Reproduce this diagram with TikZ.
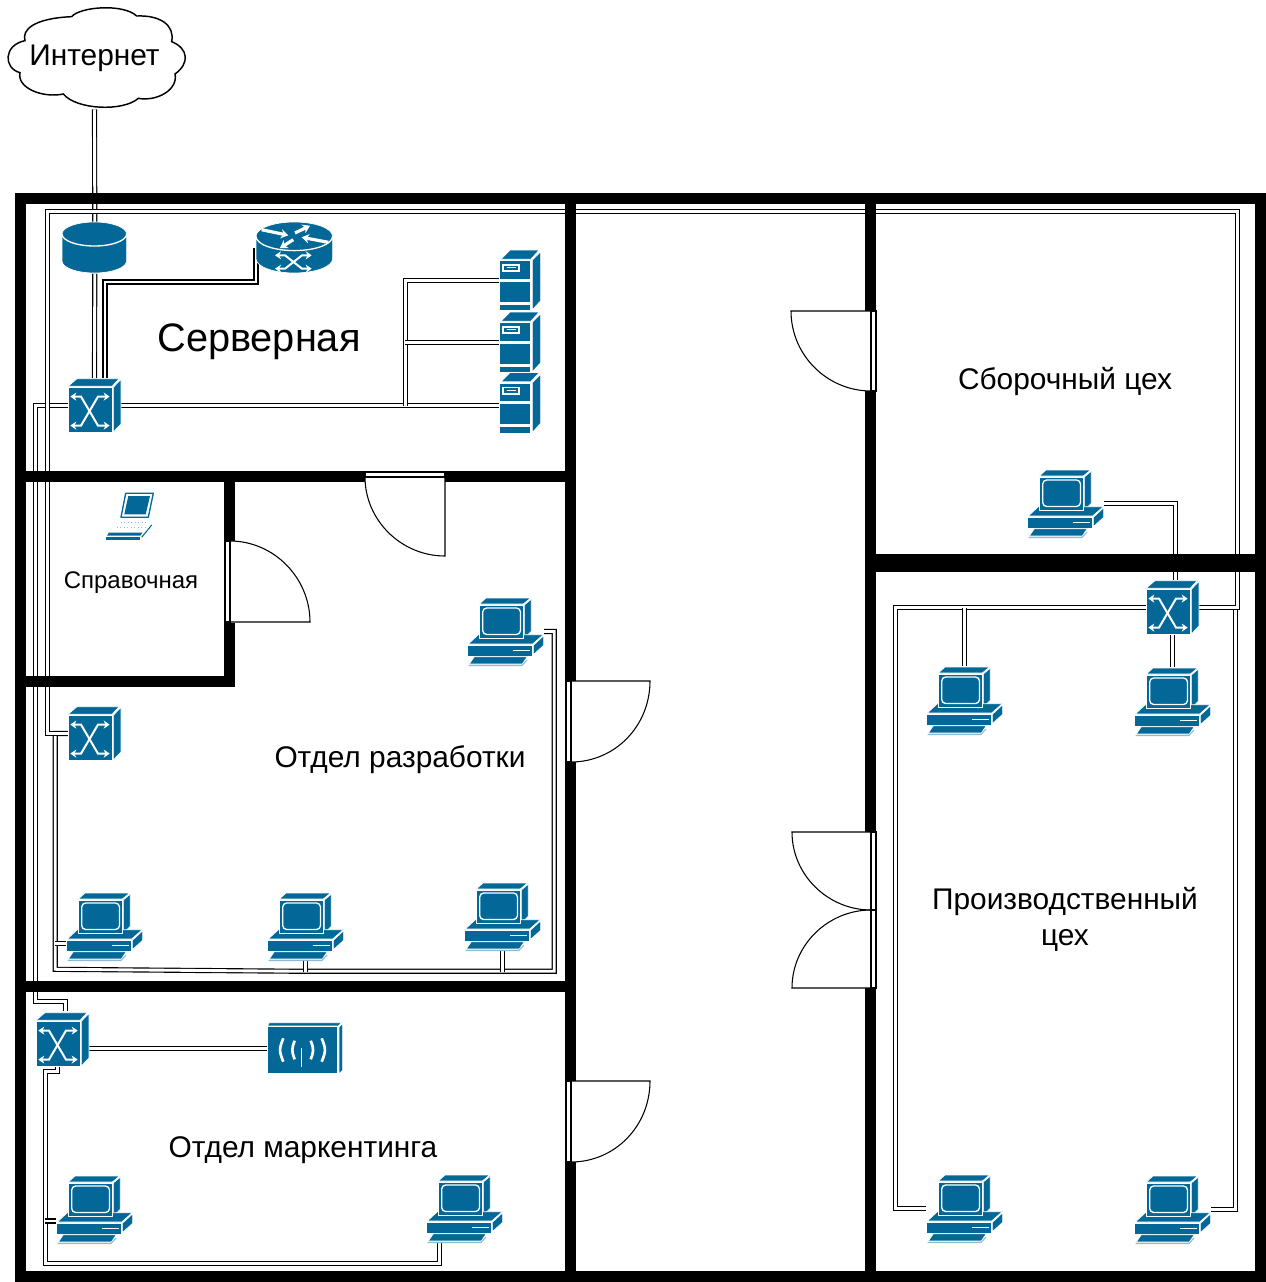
\documentclass[tikz,border=0pt]{standalone}
\usepackage{fontspec}
\setmainfont{Liberation Sans}
\usetikzlibrary{arrows.meta}
\definecolor{ciscoblue}{HTML}{036897}
\definecolor{ciscolight}{HTML}{8FBBD0}
\tikzset{
  wall/.style={line width=8.25pt},
  wallwide/.style={line width=13pt},
  link/.style={draw=black,line width=.85pt,double=white,double distance=2.15pt},
  door/.style={draw=black,line width=.8pt},
  icon/.style={fill=ciscoblue,draw=white,line width=.5pt,line join=round},
  iconline/.style={draw=white,line width=1pt},
  iconarrow/.style={draw=white,line width=1.5pt,{Stealth[length=4.5pt,width=6pt]}-{Stealth[length=4.5pt,width=6pt]}},
  roomlabel/.style={align=center,font=\fontsize{22.4}{27}\selectfont},
  pcbox/.style={anchor=north west,inner sep=0,outer sep=0,minimum width=57.75pt,minimum height=51.75pt},
  swbox/.style={anchor=north west,inner sep=0,outer sep=0,minimum width=39.75pt,minimum height=41.25pt},
  srvbox/.style={anchor=north west,inner sep=0,outer sep=0,minimum width=31.5pt,minimum height=45.75pt},
  pics/pcicon/.style={code={
    \draw[icon] (12.3,7) -- (19,1) -- (63.7,1) -- (56.3,7) -- cycle;
    \draw[icon] (57.3,8) -- (64.3,2) -- (64.3,34.3) -- (57.3,41) -- cycle;
    \draw[icon] (1.3,47) -- (11.3,37.7) -- (76.3,37.7) -- (65.7,47) -- cycle;
    \draw[icon] (12.3,8.3) rectangle (56,41);
    \draw[icon,rounded corners=3pt,line width=1pt] (15.7,11) rectangle (53.5,37.5);
    \draw[icon] (.3,48.3) rectangle (65.3,59);
    \draw[icon] (66.3,48.3) -- (76.7,38.7) -- (76.7,48.3) -- (66.3,57.7) -- cycle;
    \draw[iconline] (45.7,53.7) -- (63,53.7);
    \draw[icon] (2.3,67) -- (7.3,59.7) -- (60.3,59.7) -- (55.3,67) -- cycle;
    \draw[ciscolight,line width=.8pt] (1.7,68.5) -- (55,68.5) -- (60,63);
  }},
  pics/swicon/.style={code={
    \draw[icon] (0,8.3) -- (9,.7) -- (51.3,.7) -- (44,8.3) -- cycle;
    \draw[icon] (45.3,9.3) -- (53,1.3) -- (53,46) -- (45.3,54) -- cycle;
    \draw[icon] (0,9.3) rectangle (44,54.7);
    \draw[iconarrow] (2.3,18.6) -- (13,18.6) -- (30,47.6) -- (41.7,47.6);
    \draw[iconarrow] (41.7,18.6) -- (30,18.6) -- (13,47.6) -- (2.3,47.6);
  }},
  pics/srvicon/.style={code={
    \draw[icon] (2,9.3) -- (11,0) -- (40.3,0) -- (31.7,9.3) -- cycle;
    \draw[icon] (33.3,10) -- (41.7,1.7) -- (41.7,50.7) -- (33.3,60) -- cycle;
    \draw[icon] (0,10.7) rectangle (31.7,29.3);
    \draw[icon] (0,31) rectangle (31.7,52.3);
    \draw[icon] (0,54) rectangle (31.7,60.7);
    \fill[white] (3,14) rectangle (21,22);
    \fill[ciscoblue] (5,15.7) rectangle (19,20);
    \draw[iconline] (7.7,17.8) -- (16.7,17.8);
  }},
  pics/rticon/.style={code={
    \draw[icon] (0,14.3) arc[start angle=180,end angle=360,x radius=38.3,y radius=14.3]
      -- (76.6,36.7) arc[start angle=0,end angle=180,x radius=38.3,y radius=14.3] -- cycle;
    \draw[iconline] (0,14.3) arc[start angle=180,end angle=0,x radius=38.3,y radius=14.3];
    \draw[white,line width=2.4pt,-{Stealth[length=5.5pt,width=7pt]}] (5.7,7.7) -- (32.3,13.3);
    \draw[white,line width=2.4pt,-{Stealth[length=5.5pt,width=7pt]}] (39,11) -- (54,3.7);
    \draw[white,line width=2.4pt,-{Stealth[length=5.5pt,width=7pt]}] (37.3,17.7) -- (24,26);
    \draw[white,line width=2.4pt,-{Stealth[length=5.5pt,width=7pt]}] (72.3,20.3) -- (45.7,15.3);
    \draw[iconarrow] (19,33.3) -- (29,33.3) -- (46,46.7) -- (55.7,46.7);
    \draw[iconarrow] (55.7,33.3) -- (46,33.3) -- (29,46.7) -- (19,46.7);
  }},
  pics/dbicon/.style={code={
    \draw[icon] (0,12) arc[start angle=180,end angle=360,x radius=32.3,y radius=12]
      -- (64.6,39) arc[start angle=0,end angle=180,x radius=32.3,y radius=12] -- cycle;
    \draw[iconline] (0,12) arc[start angle=180,end angle=0,x radius=32.3,y radius=12];
  }},
  pics/apicon/.style={code={
    \draw[icon] (2.3,.7) -- (74.7,.7) -- (71.3,4) -- (.3,4) -- cycle;
    \draw[icon] (72,5.3) -- (75.7,1.3) -- (75.7,48) -- (72,52) -- cycle;
    \draw[icon] (.3,4.7) rectangle (70.3,51.3);
    \draw[iconline] (34.7,26.3) -- (34.7,44.7);
    \draw[white,line width=2pt] (27.7,18.7) .. controls (24.5,27) and (24.5,29) .. (27.7,37.3);
    \draw[white,line width=2pt] (16.3,16.3) .. controls (12,27) and (12,29) .. (16.3,39.7);
    \draw[white,line width=2pt] (43.7,18.7) .. controls (46.9,27) and (46.9,29) .. (43.7,37.3);
    \draw[white,line width=2pt] (54.7,16.3) .. controls (59,27) and (59,29) .. (54.7,39.7);
  }},
  pics/lapicon/.style={code={
    \draw[icon,line width=1pt,fill=white,draw=ciscoblue] (20.7,3.3) -- (48.3,3.3) -- (43.3,27.3) -- (16,27.3) -- cycle;
    \fill[ciscoblue] (23.3,6) -- (45,6) -- (40.7,24.3) -- (19.3,24.3) -- cycle;
    \draw[ciscolight,dotted,line width=.6pt] (16,32) -- (43,32);
    \draw[ciscolight,dotted,line width=.6pt] (12,37) -- (42,37);
    \fill[ciscoblue] (3.7,42.7) -- (37.3,42.7) -- (35.3,45.7) -- (2,45.7) -- cycle;
    \fill[ciscoblue] (1,47.3) rectangle (35,50);
    \draw[ciscoblue,line width=.8pt] (36.7,47.3) -- (46.7,35);
  }},
}
\begin{document}
\begin{tikzpicture}[x=.75pt,y=-.75pt]
    \useasboundingbox (0,0) rectangle (1266,1282);

    % Nodos
    \node[inner sep=0,minimum width=132.75pt,minimum height=76.5pt,roomlabel] (inet) at (94.5,58) {Интернет};
    \node[anchor=north west,inner sep=0,minimum width=48.75pt,minimum height=38.25pt] (db) at (62,222) {};
    \node[anchor=north west,inner sep=0,minimum width=57.75pt,minimum height=38.25pt] (rt) at (256,222) {};
    \node[anchor=north west,inner sep=0,minimum width=57pt,minimum height=39pt] (ap) at (267,1022) {};
    \node[anchor=north west,inner sep=0,minimum width=39.75pt,minimum height=39pt] (lap) at (105,490) {};
    \foreach \n/\x/\y in {sw1/68/378,sw2/68/706,sw3/1146/580,sw4/36/1012}
      \node[swbox] (\n) at (\x,\y) {};
    \foreach \n/\x/\y in {srv1/499/250,srv2/499/312,srv3/499/372.5}
      \node[srvbox] (\n) at (\x,\y) {};
    \foreach \n/\x/\y in {pcA/467/597,pcB/66/892,pcC/267/892,pcD/464/882,pcE/56/1175,pcF/426/1174,pcG/926/666,pcH/926/1174,pcI/1134/667,pcJ/1134/1175,pcS/1027/469}
      \node[pcbox] (\n) at (\x,\y) {};

    % Puntos libres
    \coordinate (sw1up) at (105,378);
    \coordinate (sw3up) at (1175.3,580);
    \coordinate (sw4up) at (65.3,1011);
    \coordinate (sw4dn) at (57.7,1067);
    \coordinate (pcFdn) at (439.3,1243);
    \coordinate (srvbus) at (405.3,405.5);

    % Enlaces
    \draw[link] (inet.south) -- (db.north);
    \draw[link] (db.south) -- (sw1.north);
    \draw[link] (rt.west) |- (105,282) -- (sw1up);
    \draw[link] (sw1.east) -- (srv3.west |- sw1.east);
    \draw[link] (srv1.west) -| (srvbus);
    \draw[link] (srv2.west) -- (srv2.west -| srvbus);
    \draw[link] (sw1.west) -- (35.3,405.5) -- (35.3,1001.3) -- (65.3,1001.3) -- (sw4up);
    \draw[link] (sw2.west) -- (55.3,733.5) -- (55.3,969.3) -- (305,971.3) -- (554.3,971.3) -- (554.3,631.5) -- (pcA.east);
    \draw[link] (sw3.east) -- (1235.7,607.5) -- (1235.7,1209.5) -- (pcJ.east);
    \draw[link] (sw3.east) -- (1237.3,607.5) -- (1237.3,211.3) -- (47.3,211.3) -- (47.3,733.5) -- (sw2.west);
    \draw[link] ([yshift=-12.6pt]pcB.west) -- ++(-10.7,0);
    \draw[link] (pcC.south) -- ++(0,11);
    \draw[link] (pcD.south) -- ++(0,21);
    \draw[link] (sw4.east |- ap.west) -- (ap.west);
    \draw[link] (sw4dn) -- (57.7,1071.3) -- (45.3,1071.3) -- (45.3,1263.3) -- (439.3,1263.3) -- (pcFdn);
    \draw[link] ([yshift=-8.6pt]pcE.west) -- ++(-10.7,0);
    \draw[link] (pcS.east) -| (sw3up);
    \draw[link] (sw3.west) -| (895.3,1208.5) -- (pcH.west);
    \draw[link] (pcG.north) -- (pcG.north |- sw3.west);
    \draw[link] (sw3.south) -- (pcI.north);

    % Paredes
    \draw[wall] (20.5,198.7) rectangle (1260.5,1276.5);
    \draw[wall] (570.5,199) -- (570.5,681);
    \draw[wall] (570.5,762) -- (570.5,1081);
    \draw[wall] (570.5,1162) -- (570.5,1277);
    \draw[wall] (870.5,199) -- (870.5,311);
    \draw[wall] (870.5,391) -- (870.5,832);
    \draw[wall] (870.5,988) -- (870.5,1277);
    \draw[wall] (21,476.3) -- (365,476.3);
    \draw[wall] (445,476.3) -- (576,476.3);
    \draw[wall] (229.5,476.3) -- (229.5,541);
    \draw[wall] (229.5,623) -- (229.5,686);
    \draw[wall] (21,681) -- (235,681);
    \draw[wall] (21,986.3) -- (576,986.3);
    \draw[wallwide] (870.5,563) -- (1260.5,563);

    % Puertas
    \foreach \y in {681,1081} {
      \draw[door,fill=white] (566,\y) rectangle (571,\y+81);
      \draw[door] (566,\y) -- (650,\y) .. controls (650,\y+45) and (615,\y+81) .. (571,\y+81);
    }
    \draw[door,fill=white] (871,311) rectangle (876,391);
    \draw[door] (876,311) -- (791,311) .. controls (791,355) and (827,391) .. (871,391);
    \draw[door,fill=white] (871,832) rectangle (876,988);
    \draw[door] (871,910) -- (876,910);
    \draw[door] (876,832) -- (792,832) .. controls (792,875) and (828,910) .. (871,910);
    \draw[door] (876,988) -- (792,988) .. controls (792,945) and (828,910) .. (871,910);
    \draw[door,fill=white] (365,472) rectangle (445,477);
    \draw[door] (445,472) -- (445,556) .. controls (401,556) and (365,520) .. (365,477);
    \draw[door,fill=white] (225,541) rectangle (230,622);
    \draw[door] (225,622) -- (310,622) .. controls (310,578) and (274,541) .. (230,541);

    % Nube
    \draw[line width=1.1pt,x=.25pt,y=-.25pt] (75,122) .. controls (65,90) and (100,55) .. (215,50)
      .. controls (240,20) and (370,10) .. (410,48)
      .. controls (480,45) and (525,75) .. (515,125)
      .. controls (565,145) and (570,190) .. (525,222)
      .. controls (535,270) and (470,305) .. (415,295)
      .. controls (370,335) and (230,330) .. (190,282)
      .. controls (130,295) and (50,265) .. (60,218)
      .. controls (10,205) and (10,135) .. (75,122) -- cycle;

    % Iconos
    \pic at (62,222) {dbicon};
    \pic at (256,222) {rticon};
    \pic at (267,1022) {apicon};
    \pic at (105,490) {lapicon};
    \foreach \x/\y in {68/378,68/706,1146/580,36/1012}
      \pic at (\x,\y) {swicon};
    \foreach \x/\y in {499/250,499/312,499/372.5}
      \pic at (\x,\y) {srvicon};
    \foreach \x/\y in {467/597,66/892,267/892,464/882,56/1175,426/1174,926/666,926/1174,1134/667,1134/1175,1027/469}
      \pic at (\x,\y) {pcicon};

    % Etiquetas
    \node[font=\fontsize{29.8}{35}\selectfont] (srvlabel) at (259,342) {Серверная};
    \node[font=\fontsize{18}{21}\selectfont] (infolabel) at (131,583) {Справочная};
    \node[roomlabel] (devlabel) at (400,760) {Отдел разработки};
    \node[roomlabel] (mktlabel) at (303,1150) {Отдел маркентинга};
    \node[roomlabel] (asmlabel) at (1065,382) {Сборочный цех};
    \node[roomlabel] (prodlabel) at (1065,919) {Производственный\\цех};
\end{tikzpicture}
\end{document}
